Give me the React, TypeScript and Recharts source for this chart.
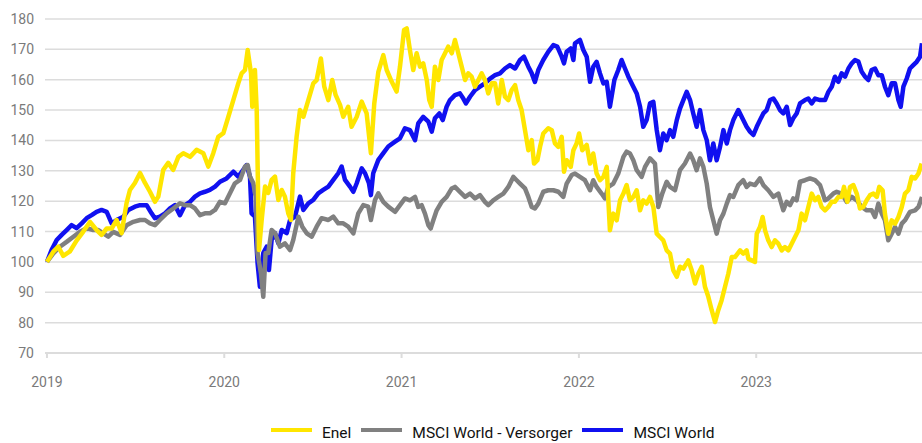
import React from "react";
import {
    LineChart,
    Line,
    XAxis,
    YAxis,
    CartesianGrid,
    Legend,
} from "recharts";

// dates as fractional years, values indexed to 100 at start of 2019
const enelDates = [
    2019.0, 2019.036, 2019.064, 2019.092, 2019.13, 2019.167, 2019.205, 2019.243, 2019.28, 2019.308,
    2019.337, 2019.365, 2019.393, 2019.421, 2019.449, 2019.468, 2019.496, 2019.525, 2019.553, 2019.581,
    2019.609, 2019.628, 2019.656, 2019.684, 2019.712, 2019.741, 2019.769, 2019.807, 2019.844, 2019.882,
    2019.91, 2019.938, 2019.966, 2019.995, 2020.023, 2020.051, 2020.079, 2020.098, 2020.117, 2020.132,
    2020.151, 2020.158, 2020.173, 2020.183, 2020.196, 2020.211, 2020.23, 2020.248, 2020.267, 2020.286,
    2020.305, 2020.324, 2020.342, 2020.361, 2020.376, 2020.389, 2020.408, 2020.427, 2020.446, 2020.474,
    2020.502, 2020.521, 2020.545, 2020.564, 2020.587, 2020.609, 2020.628, 2020.653, 2020.671, 2020.699,
    2020.718, 2020.747, 2020.775, 2020.803, 2020.827, 2020.846, 2020.869, 2020.897, 2020.916, 2020.944,
    2020.972, 2020.991, 2021.014, 2021.029, 2021.047, 2021.066, 2021.085, 2021.104, 2021.122, 2021.142,
    2021.156, 2021.17, 2021.188, 2021.207, 2021.226, 2021.245, 2021.263, 2021.283, 2021.301, 2021.32,
    2021.339, 2021.358, 2021.376, 2021.395, 2021.414, 2021.433, 2021.452, 2021.47, 2021.489, 2021.508,
    2021.527, 2021.545, 2021.565, 2021.583, 2021.602, 2021.621, 2021.64, 2021.658, 2021.677, 2021.696,
    2021.715, 2021.734, 2021.747, 2021.766, 2021.781, 2021.799, 2021.827, 2021.847, 2021.865, 2021.884,
    2021.903, 2021.916, 2021.931, 2021.954, 2021.969, 2021.987, 2022.001, 2022.019, 2022.044, 2022.063,
    2022.081, 2022.1, 2022.119, 2022.138, 2022.157, 2022.166, 2022.175, 2022.194, 2022.213, 2022.232,
    2022.251, 2022.269, 2022.288, 2022.307, 2022.326, 2022.345, 2022.363, 2022.382, 2022.401, 2022.42,
    2022.439, 2022.457, 2022.476, 2022.495, 2022.514, 2022.532, 2022.552, 2022.57, 2022.589, 2022.617,
    2022.636, 2022.655, 2022.674, 2022.693, 2022.711, 2022.73, 2022.749, 2022.768, 2022.786, 2022.805,
    2022.824, 2022.843, 2022.862, 2022.88, 2022.909, 2022.927, 2022.946, 2022.956, 2022.975, 2022.993,
    2023.003, 2023.021, 2023.036, 2023.05, 2023.068, 2023.087, 2023.106, 2023.125, 2023.144, 2023.162,
    2023.181, 2023.2, 2023.219, 2023.238, 2023.256, 2023.275, 2023.294, 2023.313, 2023.332, 2023.35,
    2023.369, 2023.388, 2023.407, 2023.426, 2023.444, 2023.463, 2023.482, 2023.495, 2023.514, 2023.529,
    2023.548, 2023.567, 2023.585, 2023.604, 2023.623, 2023.642, 2023.661, 2023.68, 2023.694, 2023.713,
    2023.726, 2023.745, 2023.764, 2023.783, 2023.802, 2023.821, 2023.839, 2023.858, 2023.877, 2023.896,
    2023.915, 2023.933,
];
const enelValues = [
    100, 103.4, 105, 102, 103.5, 107, 110, 113.2, 110.5, 108.9,
    111, 111, 113.8, 109.5, 119.4, 123.7, 126, 129.3, 126, 123.1,
    119.8, 121.5, 130.3, 132.6, 130.3, 134.6, 135.8, 134.6, 136.9, 135.8,
    131.4, 135.8, 141.2, 142.4, 147.8, 153.3, 158.8, 162.1, 163.2, 169.8,
    162.1, 151.1, 163.2, 150, 103.9, 113.8, 124.8, 122.7, 127, 128.1,
    120.4, 123.7, 121.5, 116, 113.8, 129.2, 141.2, 150, 147.8, 153.3,
    158.8, 159.9, 167, 157.7, 153.3, 159.9, 155, 151.7, 147.8, 151.1,
    144.5, 147.8, 152.8, 148.9, 135.8, 152.2, 162.6, 168.1, 163.2, 159.4,
    156.1, 164.3, 176.4, 176.9, 169.8, 163.2, 168.7, 164.3, 165.4, 159.9,
    153.3, 151.1, 164.3, 159.9, 166.5, 168.7, 170.9, 168.7, 173.1, 168.7,
    164.3, 159.9, 162.1, 161, 157.7, 159.9, 162.1, 159.9, 155.5, 158.8,
    158.8, 152.2, 159.9, 154.4, 153.3, 156.6, 158.2, 153.3, 150, 143.4,
    136.8, 140.1, 132.4, 133.5, 137.9, 142.3, 144, 143.4, 139, 137.9,
    141.2, 129.7, 133.5, 131.3, 136.8, 139, 142.3, 136.8, 138.5, 132.4,
    135.7, 129.1, 126.9, 128, 131.3, 120.3, 110.4, 115.9, 113.7, 120.3,
    122.5, 125.3, 120.3, 121.4, 123.6, 117, 120.3, 119.2, 121.4, 118.1,
    109.3, 108.2, 107.1, 103.8, 102.7, 97.3, 95.1, 98.4, 97.8, 100.5,
    97.3, 92.9, 96.2, 98.4, 91.8, 88.5, 84.1, 80.2, 84.1, 87.4,
    91.8, 96.2, 101.6, 101.6, 103.8, 102.7, 103.8, 101, 100.5, 100,
    109.3, 111.5, 114.8, 110.4, 107.1, 104.9, 107.1, 106, 103.8, 104.9,
    103.8, 106, 108.2, 110.4, 115.9, 113.7, 118.1, 122.5, 120.3, 121.4,
    118.1, 117, 118.1, 119.8, 119.8, 121.4, 121.4, 124.7, 119.8, 124.7,
    125.3, 122.5, 117.6, 118.1, 120.3, 122, 122.5, 121.4, 124.7, 123.6,
    115.9, 109.3, 113.7, 112.6, 114.8, 118.1, 122.5, 123.6, 128, 127.5,
    129.1, 132.4,
];

const utilDates = [
    2019.0, 2019.036, 2019.073, 2019.111, 2019.149, 2019.186, 2019.224, 2019.261, 2019.29, 2019.318,
    2019.346, 2019.374, 2019.412, 2019.449, 2019.487, 2019.525, 2019.553, 2019.581, 2019.609, 2019.637,
    2019.675, 2019.713, 2019.75, 2019.778, 2019.807, 2019.835, 2019.863, 2019.891, 2019.919, 2019.948,
    2019.976, 2020.004, 2020.032, 2020.06, 2020.089, 2020.117, 2020.132, 2020.145, 2020.164, 2020.177,
    2020.188, 2020.207, 2020.22, 2020.233, 2020.248, 2020.267, 2020.286, 2020.314, 2020.342, 2020.371,
    2020.389, 2020.418, 2020.44, 2020.465, 2020.493, 2020.521, 2020.549, 2020.587, 2020.615, 2020.643,
    2020.671, 2020.699, 2020.728, 2020.756, 2020.784, 2020.812, 2020.827, 2020.85, 2020.869, 2020.897,
    2020.925, 2020.963, 2020.991, 2021.019, 2021.047, 2021.076, 2021.094, 2021.113, 2021.132, 2021.151,
    2021.164, 2021.179, 2021.198, 2021.226, 2021.254, 2021.283, 2021.301, 2021.329, 2021.358, 2021.386,
    2021.414, 2021.442, 2021.47, 2021.489, 2021.517, 2021.545, 2021.574, 2021.602, 2021.63, 2021.649,
    2021.668, 2021.696, 2021.715, 2021.734, 2021.752, 2021.771, 2021.799, 2021.827, 2021.856, 2021.884,
    2021.912, 2021.931, 2021.959, 2021.978, 2022.006, 2022.034, 2022.063, 2022.081, 2022.1, 2022.128,
    2022.147, 2022.166, 2022.194, 2022.222, 2022.251, 2022.269, 2022.288, 2022.307, 2022.326, 2022.354,
    2022.373, 2022.401, 2022.429, 2022.448, 2022.47, 2022.495, 2022.514, 2022.542, 2022.57, 2022.598,
    2022.627, 2022.645, 2022.664, 2022.683, 2022.702, 2022.721, 2022.739, 2022.758, 2022.777, 2022.796,
    2022.815, 2022.834, 2022.852, 2022.871, 2022.899, 2022.927, 2022.946, 2022.965, 2022.993, 2023.021,
    2023.04, 2023.068, 2023.097, 2023.125, 2023.153, 2023.172, 2023.191, 2023.209, 2023.228, 2023.247,
    2023.275, 2023.303, 2023.332, 2023.36, 2023.388, 2023.407, 2023.435, 2023.454, 2023.482, 2023.51,
    2023.539, 2023.567, 2023.595, 2023.623, 2023.651, 2023.67, 2023.689, 2023.708, 2023.726, 2023.745,
    2023.764, 2023.783, 2023.802, 2023.821, 2023.839, 2023.867, 2023.896, 2023.915, 2023.935,
];
const utilValues = [
    100, 102.8, 105, 106.6, 108.3, 109.9, 111.1, 110.5, 110.5, 109.4,
    108.3, 109.9, 108.9, 112.1, 113.2, 113.8, 113.8, 112.7, 112.1, 113.8,
    116, 117.6, 119.3, 118.7, 118.7, 117.6, 115.4, 116, 116, 117.1,
    119.8, 119.3, 122.6, 125.9, 127, 131.4, 131.9, 128.1, 125.9, 121.5,
    102.8, 96.2, 88.5, 102.9, 102.9, 110.5, 109.5, 105, 106.1, 103.9,
    107.2, 114.9, 111.6, 109.4, 108.3, 111.6, 114.4, 113.8, 114.9, 112.7,
    112.7, 111.6, 109.4, 116, 118.7, 118.2, 113.8, 120.4, 122.6, 119.8,
    118.2, 116.5, 118.7, 120.9, 120.3, 121.4, 118.1, 118.7, 115.9, 112.1,
    111, 113.7, 117, 119.8, 121.4, 124.2, 124.7, 123.1, 121.4, 122.5,
    120.9, 122, 119.8, 118.7, 120.3, 121.4, 122.5, 124.7, 128, 126.9,
    125.8, 124.2, 121.4, 118.1, 117.6, 119.2, 123.1, 123.6, 123.6, 123.1,
    121.4, 125.8, 128.6, 129.1, 128, 126.9, 123.6, 126.9, 124.7, 122.5,
    120.9, 124.7, 125.8, 129.1, 134.6, 136.3, 135.7, 133.5, 130.2, 128,
    131.3, 134.1, 132.4, 118.1, 122.5, 126.4, 124.7, 123.6, 130.2, 132.4,
    135.7, 133.5, 130.2, 134.1, 131.3, 125.8, 118.1, 113.7, 109.3, 113.7,
    115.9, 119.2, 122, 121.4, 125.3, 126.9, 124.7, 125.8, 125.3, 127.5,
    125.3, 123.6, 121.4, 122.5, 117, 119.8, 118.7, 120.9, 120.3, 126.4,
    126.9, 127.5, 126.9, 125.3, 120.3, 120.9, 122.5, 123.1, 122.5, 119.8,
    121.4, 120.3, 118.1, 117, 117, 114.8, 119.2, 115.9, 113.7, 107.1,
    109.3, 111.5, 109.3, 112.6, 113.7, 116.5, 117, 118.1, 121.4,
];

const worldDates = [
    2019.0, 2019.026, 2019.055, 2019.083, 2019.111, 2019.139, 2019.167, 2019.196, 2019.224, 2019.252,
    2019.28, 2019.308, 2019.337, 2019.365, 2019.393, 2019.431, 2019.459, 2019.496, 2019.525, 2019.562,
    2019.59, 2019.609, 2019.637, 2019.666, 2019.694, 2019.722, 2019.75, 2019.778, 2019.807, 2019.835,
    2019.863, 2019.891, 2019.919, 2019.948, 2019.976, 2020.013, 2020.051, 2020.079, 2020.107, 2020.126,
    2020.145, 2020.154, 2020.173, 2020.188, 2020.201, 2020.22, 2020.239, 2020.252, 2020.267, 2020.286,
    2020.305, 2020.324, 2020.352, 2020.371, 2020.399, 2020.427, 2020.446, 2020.474, 2020.502, 2020.53,
    2020.558, 2020.587, 2020.615, 2020.643, 2020.662, 2020.681, 2020.709, 2020.728, 2020.747, 2020.775,
    2020.794, 2020.816, 2020.827, 2020.84, 2020.869, 2020.897, 2020.925, 2020.963, 2020.991, 2021.019,
    2021.047, 2021.076, 2021.094, 2021.122, 2021.151, 2021.17, 2021.188, 2021.213, 2021.232, 2021.254,
    2021.273, 2021.301, 2021.329, 2021.348, 2021.363, 2021.386, 2021.414, 2021.442, 2021.47, 2021.499,
    2021.527, 2021.555, 2021.583, 2021.611, 2021.64, 2021.668, 2021.69, 2021.715, 2021.734, 2021.752,
    2021.771, 2021.799, 2021.827, 2021.856, 2021.878, 2021.903, 2021.916, 2021.931, 2021.954, 2021.969,
    2021.978, 2022.006, 2022.025, 2022.044, 2022.063, 2022.081, 2022.1, 2022.119, 2022.138, 2022.157,
    2022.175, 2022.2, 2022.222, 2022.241, 2022.26, 2022.279, 2022.307, 2022.326, 2022.345, 2022.363,
    2022.382, 2022.401, 2022.42, 2022.439, 2022.457, 2022.476, 2022.495, 2022.514, 2022.532, 2022.552,
    2022.57, 2022.589, 2022.608, 2022.627, 2022.645, 2022.664, 2022.683, 2022.702, 2022.721, 2022.739,
    2022.758, 2022.777, 2022.796, 2022.815, 2022.834, 2022.852, 2022.871, 2022.899, 2022.927, 2022.946,
    2022.965, 2022.984, 2023.003, 2023.021, 2023.04, 2023.059, 2023.078, 2023.097, 2023.115, 2023.134,
    2023.153, 2023.172, 2023.191, 2023.209, 2023.228, 2023.247, 2023.275, 2023.294, 2023.313, 2023.332,
    2023.36, 2023.388, 2023.407, 2023.426, 2023.444, 2023.463, 2023.482, 2023.501, 2023.52, 2023.539,
    2023.557, 2023.576, 2023.595, 2023.614, 2023.632, 2023.651, 2023.67, 2023.689, 2023.708, 2023.726,
    2023.745, 2023.764, 2023.783, 2023.802, 2023.815, 2023.83, 2023.849, 2023.867, 2023.886, 2023.905,
    2023.924, 2023.935,
];
const worldValues = [
    100, 103.9, 107.2, 108.9, 110.5, 112.1, 111.1, 112.7, 114.4, 115.4,
    116.5, 117.1, 116.5, 112.7, 113.8, 114.9, 117.1, 118.2, 118.7, 118.7,
    116, 114.4, 114.9, 116, 117.6, 118.7, 115.4, 118.7, 119.8, 121.5,
    122.6, 123.1, 123.7, 124.8, 126.4, 127.5, 129.7, 128.1, 130.3, 131.9,
    128.1, 116, 114.9, 99.5, 91.8, 102.9, 105, 97.3, 107.2, 109.5,
    106.1, 110.5, 109.5, 113.8, 114.9, 121.5, 117.1, 119.3, 120.4, 122.6,
    123.7, 124.8, 127, 129.2, 131.4, 127, 124.8, 123.1, 125.9, 130.8,
    129.2, 125.9, 122, 129.2, 133.6, 135.8, 138, 139.6, 140.7, 144,
    143.4, 140.1, 145.6, 147.8, 146.2, 142.9, 147.3, 148.9, 146.7, 151.1,
    153.3, 154.9, 155.5, 153.8, 152.2, 154.4, 156.6, 157.7, 158.8, 160.4,
    161.5, 162.1, 163.7, 164.8, 163.7, 166.5, 167.6, 164.3, 162.1, 159.3,
    163.2, 166.5, 169.2, 171.4, 170.9, 167.6, 165.4, 169.2, 170.3, 166.5,
    172, 173.1, 169.8, 167.6, 159.3, 164.3, 165.9, 162.1, 158.8, 159.3,
    151.1, 159.9, 163.2, 166.5, 163.7, 161, 157.7, 155.5, 151.1, 144.5,
    146.7, 152.2, 152.7, 143.4, 136.8, 142.3, 140.1, 143.4, 141.2, 146.7,
    150.5, 153.3, 156, 153.3, 148.9, 144.5, 150, 143.4, 140.1, 133.5,
    139, 133.5, 137.9, 143.4, 139, 143.4, 146.7, 150, 146.7, 144.5,
    142.9, 141.8, 144.5, 146.7, 148.9, 150, 153.3, 153.8, 152.2, 150,
    148.9, 151.1, 145.1, 147.3, 148.9, 152.2, 153.3, 153.8, 152.2, 153.8,
    153.3, 153.3, 156, 157.7, 161, 159.3, 162.1, 161, 163.7, 165.4,
    166.5, 166, 162.6, 161, 159.9, 163.2, 163.7, 161.5, 161.5, 157.7,
    154.9, 158.8, 158.8, 153.3, 151.1, 157.7, 160.4, 163.7, 164.8, 165.9,
    167.6, 172,
];

const yearTicks = [2019, 2020, 2021, 2022, 2023];
const valueTicks = [70, 80, 90, 100, 110, 120, 130, 140, 150, 160, 170, 180];

const toPoints = (dates: number[], values: number[]) =>
    dates.map((t, i) => ({ t, v: values[i] }));

const enelData = toPoints(enelDates, enelValues);
const utilData = toPoints(utilDates, utilValues);
const worldData = toPoints(worldDates, worldValues);

const FONT = "Roboto, sans-serif";

const legendItems = [
    { name: "Enel", color: "#FFE600" },
    { name: "MSCI World - Versorger", color: "#808080" },
    { name: "MSCI World", color: "#1010F0" },
];

function ChartLegend() {
    return (
        <div style={{ display: "flex", height: 14, fontFamily: FONT, fontSize: 15.5, lineHeight: "14px", color: "#111" }}>
            {legendItems.map((it) => (
                <div key={it.name} style={{ display: "flex", alignItems: "flex-start", marginRight: 10 }}>
                    <div style={{ width: 41, height: 4, background: it.color, marginRight: 10 }} />
                    <span style={{ whiteSpace: "nowrap", marginTop: -2 }}>{it.name}</span>
                </div>
            ))}
        </div>
    );
}

export default function App() {
    return (
        <div style={{ position: "absolute", left: 0, top: 0, width: 922, height: 443, background: "#fff" }}>
            <LineChart width={922} height={443} margin={{ top: 19, right: 0, bottom: 46, left: 0 }}>
                <CartesianGrid vertical={false} stroke="#dcdcdc" strokeWidth={1.5} />
                <XAxis
                    type="number"
                    dataKey="t"
                    domain={[2018.989, 2023.935]}
                    ticks={yearTicks}
                    allowDataOverflow
                    height={30}
                    tickSize={5}
                    tickMargin={19}
                    stroke="#dcdcdc"
                    strokeWidth={2}
                    tick={{ fill: "#7a7a7a", fontSize: 14, fontFamily: FONT }}
                />
                <YAxis
                    type="number"
                    domain={[70, 180]}
                    ticks={valueTicks}
                    width={45}
                    axisLine={false}
                    tickLine={false}
                    tickSize={0}
                    tickMargin={11}
                    tick={{ fill: "#7a7a7a", fontSize: 14, fontFamily: FONT }}
                />
                <Legend
                    verticalAlign="bottom"
                    content={() => <ChartLegend />}
                    wrapperStyle={{ left: 271, top: 428, bottom: "auto", width: "auto" }}
                />
                <Line data={worldData} dataKey="v" type="linear" stroke="#1010F0" strokeWidth={4.5} dot={false} isAnimationActive={false} strokeLinejoin="round" />
                <Line data={utilData} dataKey="v" type="linear" stroke="#808080" strokeWidth={4.5} dot={false} isAnimationActive={false} strokeLinejoin="round" />
                <Line data={enelData} dataKey="v" type="linear" stroke="#FFE600" strokeWidth={4.5} dot={false} isAnimationActive={false} strokeLinejoin="round" />
            </LineChart>
        </div>
    );
}
